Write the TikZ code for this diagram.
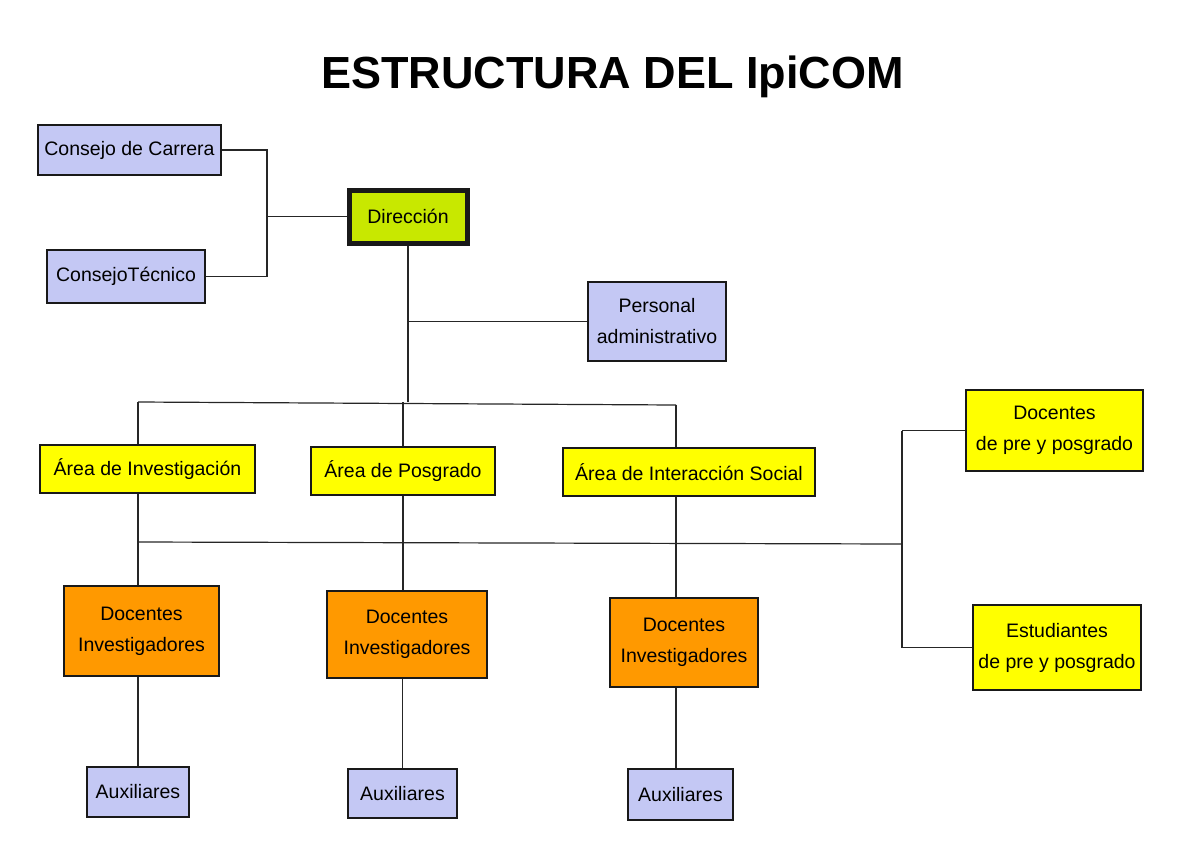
\documentclass[tikz,border=0pt]{standalone}
\usepackage{fontspec}
\setmainfont{Liberation Sans}
\definecolor{lav}{RGB}{196,200,244}
\definecolor{ylw}{RGB}{255,255,0}
\definecolor{org}{RGB}{255,153,0}
\definecolor{lime}{RGB}{200,232,0}
\begin{document}
\begin{tikzpicture}[x=1pt,y=-1pt,
  box/.style={draw=black!90,line width=2.5pt,inner sep=0pt,align=center,
    font=\fontsize{19.5}{31}\selectfont},
  conn/.style={draw=black!85,line width=1.2pt}]
\useasboundingbox (0,0) rectangle (1189,852);
\node[anchor=base,font=\fontsize{45}{54}\selectfont\bfseries] (title) at (612.5,88) {ESTRUCTURA DEL IpiCOM};
% nodes
\node[box,fill=lav,minimum width=183pt,minimum height=50pt] (cc) at (129.5,150) {Consejo de Carrera};
\node[box,fill=lav,minimum width=158pt,minimum height=53pt] (ct) at (126,276.5) {ConsejoTécnico};
\node[box,fill=lime,line width=5pt,minimum width=118pt,minimum height=53pt] (dir) at (408,216.5) {Dirección};
\node[box,fill=lav,minimum width=138pt,minimum height=79pt] (pa) at (657,321.5) {Personal\\administrativo};
\node[box,fill=ylw,minimum width=215pt,minimum height=48pt] (ai) at (147.5,469) {Área de Investigación};
\node[box,fill=ylw,minimum width=184pt,minimum height=48pt] (ap) at (403,471) {Área de Posgrado};
\node[box,fill=ylw,minimum width=252pt,minimum height=48pt] (ais) at (689,472) {Área de Interacción Social};
\node[box,fill=ylw,minimum width=177pt,minimum height=81pt] (dp) at (1054.5,430.5) {Docentes\\de pre y posgrado};
\node[box,fill=ylw,minimum width=168pt,minimum height=85pt] (ep) at (1057,647.5) {Estudiantes\\de pre y posgrado};
\node[box,fill=org,minimum width=155pt,minimum height=90pt] (di1) at (141.5,631) {Docentes\\Investigadores};
\node[box,fill=org,minimum width=160pt,minimum height=87pt] (di2) at (407,634.5) {Docentes\\Investigadores};
\node[box,fill=org,minimum width=148pt,minimum height=89pt] (di3) at (684,642.5) {Docentes\\Investigadores};
\node[box,fill=lav,minimum width=102pt,minimum height=50pt] (ax1) at (138,792) {Auxiliares};
\node[box,fill=lav,minimum width=109pt,minimum height=49pt] (ax2) at (402.5,793.5) {Auxiliares};
\node[box,fill=lav,minimum width=105pt,minimum height=51pt] (ax3) at (680.5,794.5) {Auxiliares};
% junction coordinates
\coordinate (jt) at (267,148);
\coordinate (b1l) at (138,402);
\coordinate (b1r) at (676,405);
\coordinate (b2l) at (138,542);
\coordinate (b2r) at (902,544);
% connectors
\begin{scope}[on background layer/.try]
\draw[conn] (cc.east) -- (cc.east -| jt) -- (ct.east -| jt) -- (ct.east);
\draw[conn] (dir.west -| jt) -- (dir.west);
\draw[conn] (dir.south) -- (dir.south |- b1l);
\draw[conn] (dir.south |- pa.west) -- (pa.west);
\draw[conn] (b1l) -- (b1r);
\draw[conn] (b1l) -- (b1l |- ai.north);
\draw[conn] (ap.north |- b1l) -- (ap.north);
\draw[conn] (b1r) -- (b1r |- ais.north);
\draw[conn] (b2l) -- (b2r);
\draw[conn] (b1l |- ai.south) -- (b1l |- di1.north);
\draw[conn] (ap.south) -- (ap.south |- di2.north);
\draw[conn] (b1r |- ais.south) -- (b1r |- di3.north);
\draw[conn] (b2r |- dp.west) -- (b2r |- ep.west);
\draw[conn] (b2r |- dp.west) -- (dp.west);
\draw[conn] (b2r |- ep.west) -- (ep.west);
\draw[conn] (ax1.north |- di1.south) -- (ax1.north);
\draw[conn] (ax2.north |- di2.south) -- (ax2.north);
\draw[conn] (b1r |- di3.south) -- (b1r |- ax3.north);
\end{scope}
\end{tikzpicture}
\end{document}
